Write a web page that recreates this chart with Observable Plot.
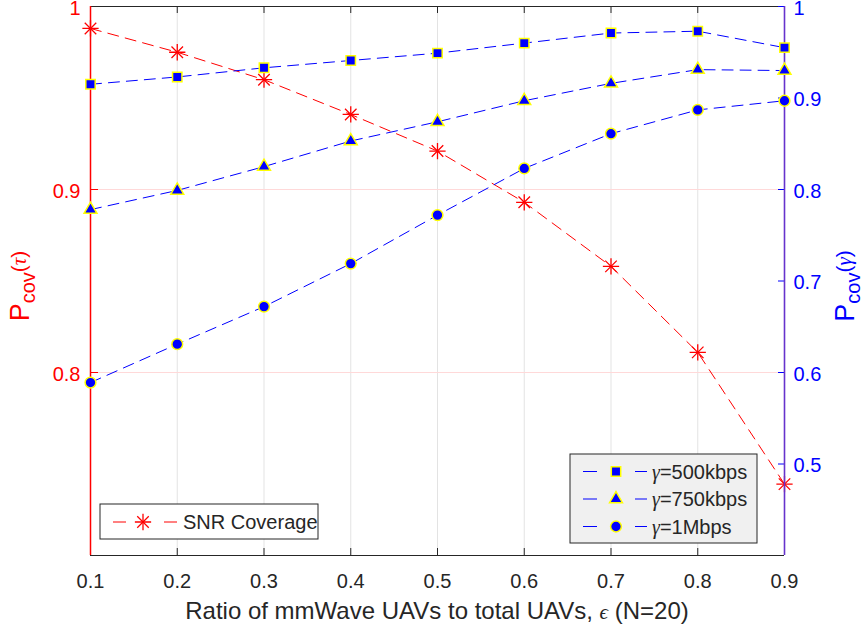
<!DOCTYPE html>
<html><head><meta charset="utf-8">
<script src="https://cdn.jsdelivr.net/npm/d3@7"></script>
<script src="https://cdn.jsdelivr.net/npm/@observablehq/plot@0.6"></script>
<style>
body{margin:0;background:#fff;}
#wrap{position:relative;width:867px;height:632px;overflow:hidden;}
#wrap svg{position:absolute;left:0;top:0;}
</style></head><body><div id="wrap"></div>
<script>
// ---- data ----
const epsilon = [0.1, 0.2, 0.3, 0.4, 0.5, 0.6, 0.7, 0.8, 0.9];
const snrCoverage = [0.988, 0.975, 0.960, 0.941, 0.921, 0.893, 0.858, 0.811, 0.739];
const cov500kbps = [0.915, 0.923, 0.933, 0.941, 0.949, 0.960, 0.971, 0.973, 0.955];
const cov750kbps = [0.778, 0.799, 0.825, 0.853, 0.874, 0.897, 0.916, 0.931, 0.930];
const cov1Mbps = [0.589, 0.631, 0.672, 0.719, 0.772, 0.823, 0.861, 0.887, 0.897];
const xTicks = [0.1, 0.2, 0.3, 0.4, 0.5, 0.6, 0.7, 0.8, 0.9];
const leftTicks = [0.8, 0.9, 1];
const rightTicks = [0.5, 0.6, 0.7, 0.8, 0.9, 1];
const leftDomain = [0.7, 1];
const rightDomain = [0.4, 1];
const rateLabels = ["500kbps", "750kbps", "1Mbps"];
const snrLabel = "SNR Coverage";

// ---- layout ----
const W = 867, H = 632, ML = 90, MR = 83, MT = 6, MB = 77;
const PW = W - ML - MR, PH = H - MT - MB;
const FONT = "'Liberation Sans', Arial, Helvetica, sans-serif";
const GREEK = "'Liberation Serif', 'DejaVu Serif', serif";
const dash = "11,7";
const symbols = ["square", "triangle", "circle"];
const d3symbols = [d3.symbolSquare, d3.symbolTriangle, d3.symbolCircle];
const symR = [5.3, 4.8, 5.4];
const starR = 5.3;

const snrRows = epsilon.map((e, i) => ({e, v: snrCoverage[i]}));
const blueRows = [cov500kbps, cov750kbps, cov1Mbps].map(arr => epsilon.map((e, i) => ({e, v: arr[i]})));

const base = Plot.plot({
  width: W, height: H, marginLeft: ML, marginRight: MR, marginTop: MT, marginBottom: MB,
  style: {fontFamily: FONT, background: "white"},
  x: {domain: [xTicks[0], xTicks[xTicks.length - 1]]},
  y: {domain: leftDomain},
  marks: [
    Plot.ruleX(xTicks.slice(1, -1), {stroke: "#e3e3e3", strokeWidth: 1}),
    Plot.ruleY(leftTicks.slice(0, -1), {stroke: "#ffd9d9", strokeWidth: 1}),
    Plot.ruleX(xTicks, {insetTop: PH - 7, stroke: "#262626"}),
    Plot.ruleX(xTicks, {insetBottom: PH - 7, stroke: "#262626"}),
    Plot.ruleY(leftTicks, {insetRight: PW - 8, stroke: "red"}),
    Plot.ruleY(leftDomain, {stroke: "#262626"}),
    Plot.ruleX([xTicks[0]], {stroke: "red", strokeWidth: 1.5}),
    Plot.axisX({ticks: xTicks, tickSize: 0, tickPadding: 18, tickFormat: d3.format(".1f"), fontSize: 20, color: "#262626", label: null}),
    Plot.axisY({ticks: leftTicks, tickSize: 0, tickPadding: 10, dy: 2, tickFormat: d => String(d), fontSize: 20, color: "red", label: null}),
    Plot.line(snrRows, {x: "e", y: "v", stroke: "red", strokeWidth: 1, strokeDasharray: dash}),
    Plot.dot(snrRows, {x: "e", y: "v", symbol: "plus", r: starR, stroke: "red", strokeWidth: 1.3}),
    Plot.dot(snrRows, {x: "e", y: "v", symbol: "times", r: starR, stroke: "red", strokeWidth: 1.3})
  ]
});

const over = Plot.plot({
  width: W, height: H, marginLeft: ML, marginRight: MR, marginTop: MT, marginBottom: MB,
  style: {fontFamily: FONT, background: "transparent"},
  x: {domain: [xTicks[0], xTicks[xTicks.length - 1]], axis: null},
  y: {domain: rightDomain},
  marks: [
    Plot.ruleY(rightTicks, {insetLeft: PW - 6, stroke: "blue"}),
    Plot.ruleX([xTicks[xTicks.length - 1]], {stroke: "#6633cc", strokeWidth: 1.6}),
    Plot.axisY({anchor: "right", ticks: rightTicks, tickSize: 0, tickPadding: 9, dy: 2, tickFormat: d => String(d), fontSize: 20, color: "blue", label: null}),
    ...blueRows.flatMap((rows, k) => [
      Plot.line(rows, {x: "e", y: "v", stroke: "blue", strokeWidth: 1, strokeDasharray: dash}),
      Plot.dot(rows, {x: "e", y: "v", symbol: symbols[k], r: symR[k], fill: "blue", stroke: "yellow", strokeWidth: 1.5})
    ])
  ]
});

const wrap = document.getElementById("wrap");
wrap.appendChild(base);
wrap.appendChild(over);

const svg = d3.select(over);
const ann = svg.append("g").attr("text-anchor", "start");

// x label
const xl = ann.append("text").attr("x", ML + PW / 2).attr("y", 619).attr("text-anchor", "middle")
  .attr("fill", "#262626").style("font-family", FONT).style("font-size", "24px");
xl.append("tspan").text("Ratio of mmWave UAVs to total UAVs, ");
xl.append("tspan").style("font-family", GREEK).style("font-style", "italic").style("font-size", "21px").text("ϵ");
xl.append("tspan").text(" (N=20)");

// y labels
function ylab(x, y, color, greek) {
  const t = ann.append("text").attr("transform", `translate(${x},${y}) rotate(-90)`)
    .attr("text-anchor", "middle").attr("fill", color).style("font-family", FONT);
  t.append("tspan").style("font-size", "27px").text("P");
  t.append("tspan").style("font-size", "20px").attr("dy", 6).text("cov");
  t.append("tspan").style("font-size", "21px").attr("dy", -9).text("(");
  t.append("tspan").style("font-size", "21px").style("font-family", GREEK).style("font-style", "italic").text(greek);
  t.append("tspan").style("font-size", "21px").text(")");
}
ylab(29, 286, "red", "τ");
ylab(854, 286, "blue", "γ");

// SNR legend
const g1 = ann.append("g");
g1.append("rect").attr("x", 100).attr("y", 504).attr("width", 218).attr("height", 35)
  .attr("fill", "white").attr("stroke", "#262626").attr("stroke-width", 1);
[[113, 126], [164, 177]].forEach(([a, b]) =>
  g1.append("line").attr("x1", a).attr("x2", b).attr("y1", 522).attr("y2", 522).attr("stroke", "red").attr("stroke-width", 1));
[d3.symbolPlus, d3.symbolTimes].forEach(s =>
  g1.append("path").attr("d", d3.symbol(s, starR * starR * Math.PI)()).attr("transform", "translate(143,522)")
    .attr("fill", "none").attr("stroke", "red").attr("stroke-width", 1.3));
g1.append("text").attr("x", 183).attr("y", 529).attr("text-anchor", "start").attr("fill", "#262626")
  .style("font-family", FONT).style("font-size", "20px").text(snrLabel);

// rate legend
const g2 = ann.append("g");
g2.append("rect").attr("x", 570).attr("y", 454).attr("width", 187).attr("height", 89)
  .attr("fill", "#f0f0f0").attr("stroke", "#262626").attr("stroke-width", 1);
rateLabels.forEach((lab, k) => {
  const y = 471.5 + k * 27.5;
  [[583, 597], [635, 647]].forEach(([a, b]) =>
    g2.append("line").attr("x1", a).attr("x2", b).attr("y1", y).attr("y2", y).attr("stroke", "blue").attr("stroke-width", 1));
  g2.append("path").attr("d", d3.symbol(d3symbols[k], symR[k] * symR[k] * Math.PI)()).attr("transform", `translate(616,${y})`)
    .attr("fill", "blue").attr("stroke", "yellow").attr("stroke-width", 1.5);
  const t = g2.append("text").attr("x", 652).attr("y", y + 7).attr("text-anchor", "start").attr("fill", "#262626")
    .style("font-family", FONT).style("font-size", "20px");
  t.append("tspan").style("font-family", GREEK).style("font-style", "italic").text("γ");
  t.append("tspan").text("=" + lab);
});
</script></body></html>
